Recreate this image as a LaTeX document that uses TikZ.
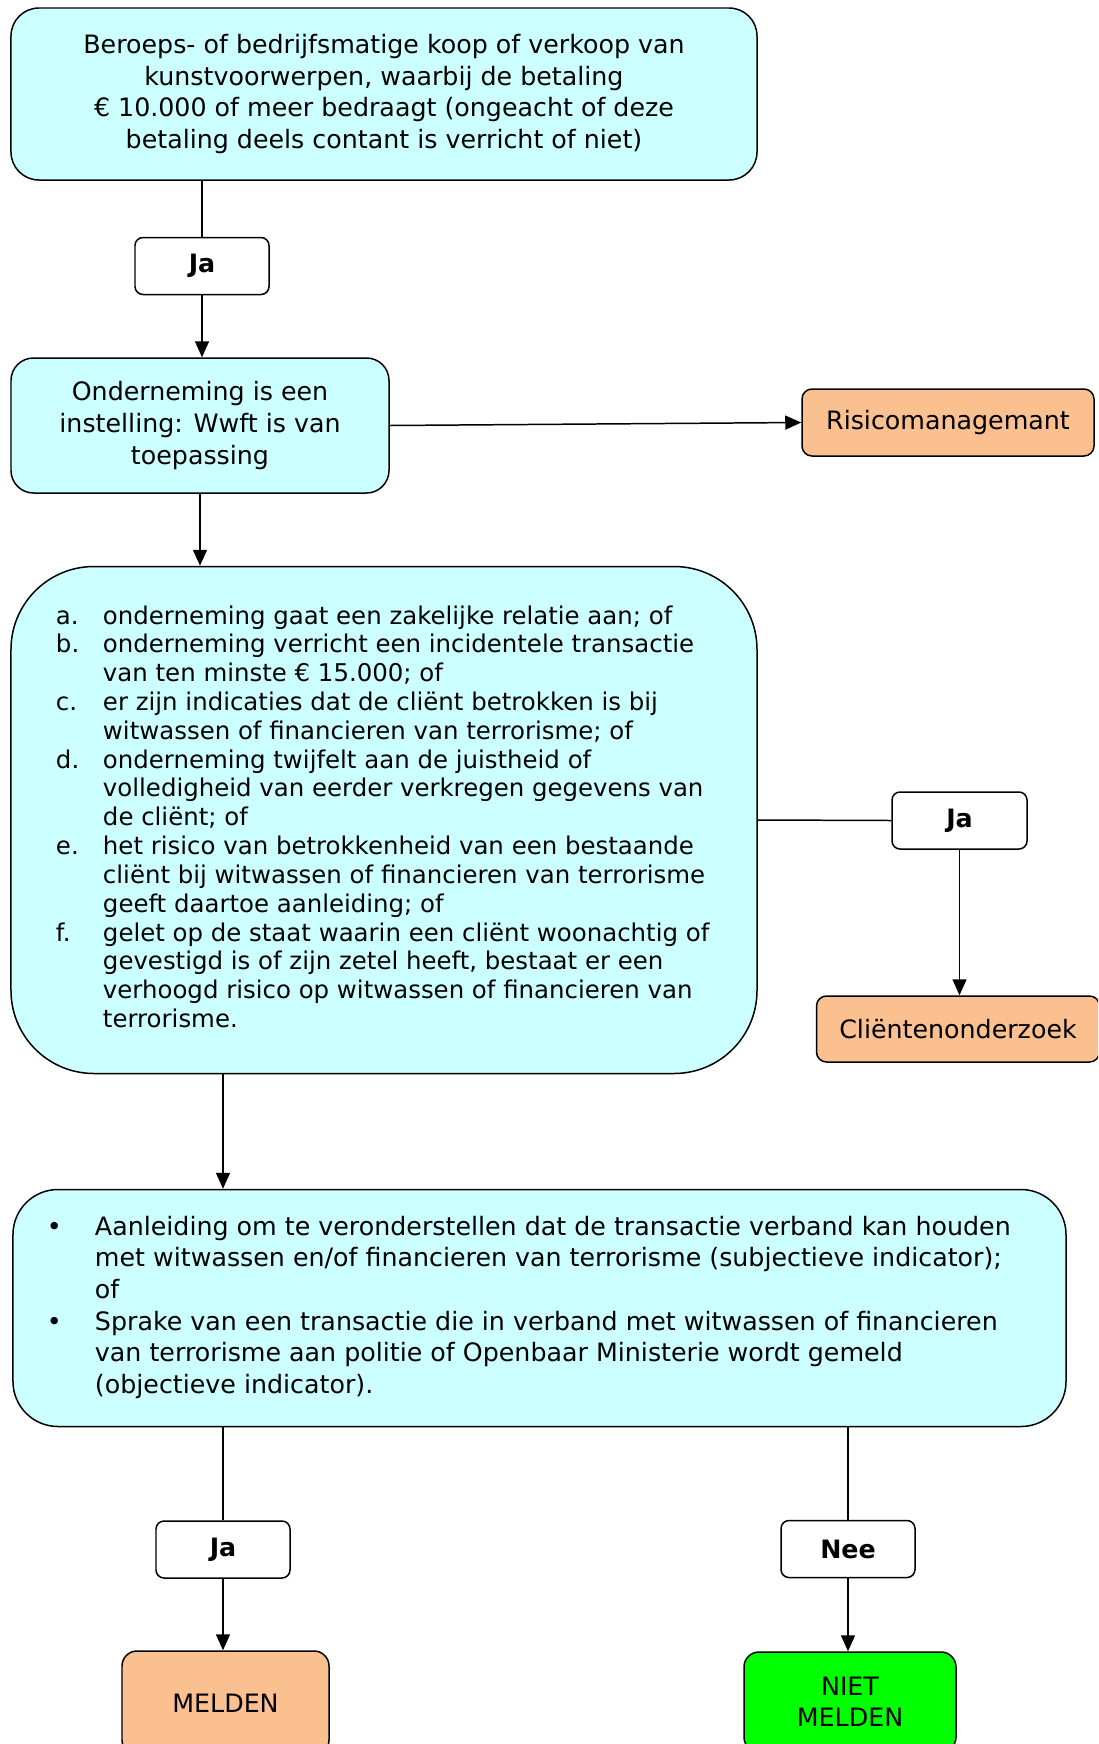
\documentclass[tikz,border=0pt]{standalone}
\usepackage{fontspec}
\setmainfont{DejaVu Sans}
\usepackage{array}
\usetikzlibrary{positioning}
\usetikzlibrary{arrows.meta}
\definecolor{lichtblauw}{HTML}{CCFFFF}
\definecolor{zalm}{HTML}{FAC090}
\definecolor{felgroen}{HTML}{00FF00}
\newcolumntype{L}[1]{>{\raggedright\arraybackslash}p{#1}}
\tikzset{
    vraag/.style = {rectangle, rounded corners=5.6mm, draw=black, line width=0.85pt, fill=lichtblauw, align=center, font=\fontsize{14.4pt}{18pt}\selectfont},
    keuze/.style = {rectangle, rounded corners=1.6mm, draw=black, line width=0.85pt, fill=white, minimum width=26.8mm, minimum height=11.4mm, font=\fontsize{14.4pt}{18pt}\selectfont\bfseries},
    actie/.style = {rectangle, rounded corners=2mm, draw=black, line width=0.85pt, fill=zalm, align=center, minimum height=13.4mm, font=\fontsize{14.4pt}{17.6pt}\selectfont},
    actieg/.style = {actie, fill=felgroen},
    edgen/.style = {-{Triangle[length=3.2mm,width=2.8mm]}, line width=0.85pt},
    lijn/.style = {line width=0.85pt},
}

\begin{document}
\begin{tikzpicture}[x=0.2mm,y=-0.2mm]
\useasboundingbox (0,0) rectangle (1098,1744);
\clip (0,0) rectangle (1098,1744);
\node[vraag, minimum width=149.2mm, minimum height=34.4mm] at (384, 94) (koop) {Beroeps- of bedrijfsmatige koop of verkoop van\\kunstvoorwerpen, waarbij de betaling\\€ 10.000 of meer bedraagt (ongeacht of deze\\betaling deels contant is verricht of niet)};
\node[keuze] at (202, 266) (ja1) {Ja};
\node[vraag, rounded corners=4.5mm, minimum width=75.6mm, minimum height=27mm] at (200, 425.5) (instelling) {Onderneming is een\\instelling: Wwft is van\\toepassing};
\node[actie, minimum width=58.4mm] at (948, 422.5) (risico) {Risicomanagemant};
\node[vraag, rounded corners=16.6mm, minimum width=149.2mm, minimum height=101.4mm, align=left, font=\fontsize{13.9pt}{16.4pt}\selectfont] at (384, 820) (criteria) {%
\begin{tabular}{@{}L{9.4mm}@{}L{121.8mm}@{}}
a. & onderneming gaat een zakelijke relatie aan; of\\
b. & onderneming verricht een incidentele transactie\\
   & van ten minste € 15.000; of\\
c. & er zijn indicaties dat de cliënt betrokken is bij\\
   & witwassen of financieren van terrorisme; of\\
d. & onderneming twijfelt aan de juistheid of\\
   & volledigheid van eerder verkregen gegevens van\\
   & de cliënt; of\\
e. & het risico van betrokkenheid van een bestaande\\
   & cliënt bij witwassen of financieren van terrorisme\\
   & geeft daartoe aanleiding; of\\
f. & gelet op de staat waarin een cliënt woonachtig of\\
   & gevestigd is of zijn zetel heeft, bestaat er een\\
   & verhoogd risico op witwassen of financieren van\\
   & terrorisme.
\end{tabular}};
\node[keuze, minimum width=27mm] at (959.5, 820.5) (ja2) {Ja};
\node[actie, minimum width=56.6mm, minimum height=13.2mm] at (958, 1029) (onderzoek) {Cliëntenonderzoek};
\node[vraag, rounded corners=9mm, minimum width=210.6mm, minimum height=47.4mm, align=left] at (539.5, 1308) (indicator) {%
\begin{tabular}{@{}L{9.6mm}@{}L{187.4mm}@{}}
\textbullet & Aanleiding om te veronderstellen dat de transactie verband kan houden\\
            & met witwassen en/of financieren van terrorisme (subjectieve indicator);\\
            & of\\
\textbullet & Sprake van een transactie die in verband met witwassen of financieren\\
            & van terrorisme aan politie of Openbaar Ministerie wordt gemeld\\
            & (objectieve indicator).
\end{tabular}};
\node[keuze] at (223, 1549.5) (ja3) {Ja};
\node[keuze] at (848, 1549) (nee) {Nee};
\node[actie, rounded corners=3mm, minimum width=41.4mm, minimum height=20.8mm] at (225.5, 1703) (melden) {MELDEN};
\node[actieg, rounded corners=3mm, minimum width=42.4mm, minimum height=20mm] at (850, 1702) (nietmelden) {NIET\\MELDEN};
%
\draw[lijn] (ja1.north |- koop.south) -- (ja1.north);
\draw[edgen] (ja1.south) -- (ja1.south |- instelling.north);
\draw[edgen] (instelling.east) -- (risico.west);
\draw[edgen] (instelling.south) -- (instelling.south |- criteria.north);
\draw[lijn] (criteria.east) -- (ja2.west);
\draw[edgen] (ja2.south) -- (ja2.south |- onderzoek.north);
\draw[edgen] (ja3.north |- criteria.south) -- (ja3.north |- indicator.north);
\draw[lijn] (ja3.north |- indicator.south) -- (ja3.north);
\draw[edgen] (ja3.south) -- (ja3.south |- melden.north);
\draw[lijn] (nee.north |- indicator.south) -- (nee.north);
\draw[edgen] (nee.south) -- (nee.south |- nietmelden.north);

\end{tikzpicture}
\end{document}
